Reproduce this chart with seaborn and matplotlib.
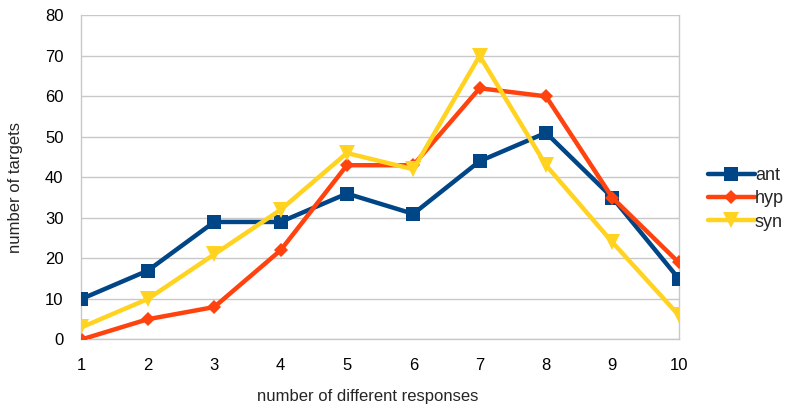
import matplotlib
matplotlib.use("Agg")
import matplotlib.pyplot as plt
import seaborn as sns
import pandas as pd

x_vals = [1, 2, 3, 4, 5, 6, 7, 8, 9, 10]
ant = [10, 17, 29, 29, 36, 31, 44, 51, 35, 15]
hyp = [0, 5, 8, 22, 43, 43, 62, 60, 35, 19]
syn = [3, 10, 21, 32, 46, 42, 70, 43, 24, 6]
series_names = ["ant", "hyp", "syn"]
y_ticks = [0, 10, 20, 30, 40, 50, 60, 70, 80]

df = pd.DataFrame({
    "x": x_vals * 3,
    "y": ant + hyp + syn,
    "series": ["ant"] * 10 + ["hyp"] * 10 + ["syn"] * 10,
})

sns.set_theme(style="white")
plt.rcParams["font.family"] = ["Liberation Sans", "DejaVu Sans"]

fig = plt.figure(figsize=(7.88, 4.09), dpi=100)
ax = fig.add_axes([0.1034, 0.170, 0.8613 - 0.1034, 0.9626 - 0.170])

palette = {"ant": "#004586", "hyp": "#ff420e", "syn": "#ffd320"}
markers = {"ant": "s", "hyp": "D", "syn": "v"}
msizes = {"ant": 9.5, "hyp": 7, "syn": 11}

for name in series_names:
    sub = df[df["series"] == name]
    sns.lineplot(data=sub, x="x", y="y", ax=ax, color=palette[name],
                 marker=markers[name], markersize=msizes[name],
                 markeredgewidth=0, linewidth=3.2, label=name, zorder=3)

ax.set_xlim(1, 10)
ax.set_ylim(0, 80)
ax.set_xticks(x_vals)
ax.set_yticks(y_ticks)
ax.yaxis.grid(True, color="#c8c8c8", linewidth=1)
ax.xaxis.grid(False)
for s in ax.spines.values():
    s.set_color("#c8c8c8")
    s.set_linewidth(1)
ax.spines["top"].set_visible(False)
ax.tick_params(axis="both", which="both", direction="out", length=7, width=1,
               color="#c8c8c8", labelsize=12, labelcolor="black")
ax.tick_params(axis="y", pad=6)
ax.tick_params(axis="x", pad=6)
ax.set_xlabel("number of different responses", fontsize=12)
ax.set_ylabel("number of targets", fontsize=12)
ax.xaxis.set_label_coords(0.479, -0.153)
ax.yaxis.set_label_coords(-0.098, 0.469)

leg = ax.legend(loc="center left", bbox_to_anchor=(1.049, 0.434), frameon=False,
                fontsize=13, handlelength=2.6, handletextpad=0.0,
                labelspacing=0.35, borderaxespad=0, borderpad=0)

fig.savefig("out.png", dpi=100)
